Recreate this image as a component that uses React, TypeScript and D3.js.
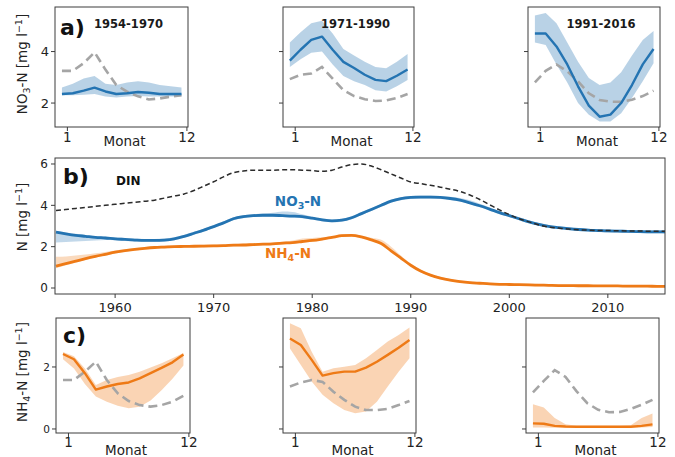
import React from "react";
import * as d3 from "d3";

// ---------- monthly panels (a: NO3-N, c: NH4-N) ----------
const months = [1, 2, 3, 4, 5, 6, 7, 8, 9, 10, 11, 12];
const monthTicks = [1, 12];
const periodLabels = ["1954-1970", "1971-1990", "1991-2016"];

const no3Mean1 = [2.35, 2.38, 2.48, 2.6, 2.45, 2.35, 2.38, 2.43, 2.4, 2.35, 2.35, 2.35];
const no3Lo1 = [2.3, 2.3, 2.32, 2.35, 2.25, 2.22, 2.25, 2.27, 2.25, 2.25, 2.25, 2.25];
const no3Hi1 = [2.6, 2.75, 2.95, 3.05, 2.75, 2.7, 2.8, 2.85, 2.8, 2.7, 2.65, 2.6];
const no3Ref1 = [3.25, 3.25, 3.55, 3.97, 3.3, 2.7, 2.44, 2.26, 2.14, 2.18, 2.25, 2.3];

const no3Mean2 = [3.65, 4.07, 4.45, 4.58, 4.07, 3.6, 3.36, 3.1, 2.9, 2.85, 3.06, 3.3];
const no3Lo2 = [3.4, 3.7, 3.95, 4.0, 3.5, 3.05, 2.85, 2.7, 2.5, 2.45, 2.65, 2.9];
const no3Hi2 = [4.35, 4.75, 5.1, 5.2, 4.7, 4.1, 3.85, 3.6, 3.4, 3.35, 3.6, 3.9];
const no3Ref2 = [2.93, 3.1, 3.15, 3.4, 2.95, 2.5, 2.27, 2.15, 2.08, 2.1, 2.2, 2.35];

const no3Mean3 = [4.7, 4.7, 4.2, 3.5, 2.65, 1.9, 1.47, 1.55, 2.0, 2.7, 3.5, 4.1];
const no3Lo3 = [4.35, 4.25, 3.5, 2.8, 2.0, 1.55, 1.28, 1.28, 1.6, 2.2, 2.85, 3.55];
const no3Hi3 = [5.4, 5.5, 5.1, 4.35, 3.6, 2.97, 2.7, 2.8, 3.2, 3.85, 4.45, 4.8];
const no3Ref3 = [2.8, 3.25, 3.5, 3.23, 2.84, 2.38, 2.12, 2.05, 2.05, 2.13, 2.27, 2.48];

const nh4Mean1 = [2.42, 2.25, 1.8, 1.27, 1.37, 1.45, 1.5, 1.63, 1.8, 1.97, 2.15, 2.4];
const nh4Lo1 = [2.25, 1.95, 1.45, 1.05, 0.88, 0.75, 0.67, 0.72, 0.92, 1.25, 1.62, 2.05];
const nh4Hi1 = [2.48, 2.35, 1.95, 1.42, 1.58, 1.68, 1.74, 1.85, 1.98, 2.12, 2.28, 2.45];
const nh4Ref1 = [1.58, 1.58, 1.85, 2.17, 1.58, 1.15, 0.9, 0.77, 0.72, 0.77, 0.88, 1.07];

const nh4Mean2 = [2.92, 2.71, 2.23, 1.72, 1.8, 1.85, 1.85, 1.98, 2.17, 2.39, 2.62, 2.87];
const nh4Lo2 = [2.6, 2.06, 1.53, 1.1, 0.83, 0.61, 0.51, 0.56, 0.88, 1.37, 1.85, 2.28];
const nh4Hi2 = [3.41, 3.25, 2.49, 1.85, 1.96, 2.01, 2.06, 2.28, 2.55, 2.82, 3.03, 3.27];
const nh4Ref2 = [1.37, 1.5, 1.58, 1.52, 1.2, 0.94, 0.72, 0.61, 0.61, 0.65, 0.77, 0.9];

const nh4Mean3 = [0.18, 0.17, 0.1, 0.08, 0.07, 0.07, 0.07, 0.07, 0.07, 0.07, 0.1, 0.15];
const nh4Lo3 = [0.05, 0.05, 0.04, 0.04, 0.04, 0.04, 0.04, 0.04, 0.04, 0.04, 0.05, 0.06];
const nh4Hi3 = [0.8, 0.69, 0.35, 0.15, 0.1, 0.1, 0.1, 0.1, 0.1, 0.12, 0.35, 0.5];
const nh4Ref3 = [1.18, 1.55, 1.9, 1.68, 1.22, 0.83, 0.62, 0.54, 0.55, 0.65, 0.78, 0.94];

const no3Ticks = [2, 4];
const nh4Ticks = [0, 2];

// ---------- b) annual series ----------
const years = d3.range(1954, 2017);
const yearTicks = [1960, 1970, 1980, 1990, 2000, 2010];
const nTicks = [0, 2, 4, 6];

const dinAnnual = [
  3.75, 3.8, 3.85, 3.9, 3.95, 4.0,
  4.05, 4.1, 4.15, 4.2, 4.25, 4.35, 4.45, 4.55, 4.72, 4.93,
  5.14, 5.38, 5.58, 5.66, 5.7, 5.7, 5.7, 5.72, 5.72, 5.7,
  5.68, 5.65, 5.7, 5.85, 5.97, 6.0, 5.9, 5.72, 5.52, 5.32,
  5.13, 5.05, 4.97, 4.88, 4.78, 4.67, 4.5, 4.28, 4.03, 3.78,
  3.55, 3.35, 3.2, 3.05, 2.95, 2.9, 2.85, 2.82, 2.8, 2.78,
  2.78, 2.77, 2.76, 2.76, 2.75, 2.75, 2.74,
];
const no3Annual = [
  2.7, 2.62, 2.55, 2.5, 2.45, 2.42,
  2.38, 2.35, 2.32, 2.3, 2.3, 2.32, 2.38, 2.5, 2.65, 2.8,
  2.97, 3.15, 3.35, 3.45, 3.5, 3.52, 3.52, 3.5, 3.48, 3.45,
  3.38, 3.3, 3.25, 3.28, 3.4, 3.6, 3.8, 4.0, 4.2, 4.32,
  4.38, 4.4, 4.4, 4.38, 4.33, 4.25, 4.12, 3.98, 3.82, 3.65,
  3.5, 3.35, 3.2, 3.08, 2.98, 2.92, 2.87, 2.83, 2.8, 2.78,
  2.76, 2.75, 2.74, 2.73, 2.72, 2.72, 2.71,
];
const no3ErrLo = [
  0.5, 0.4, 0.3, 0.22, 0.15, 0.1,
  0.07, 0.07, 0.07, 0.07, 0.07, 0.07, 0.07, 0.07, 0.07, 0.07,
  0.07, 0.07, 0.07, 0.07, 0.07, 0.07, 0.07, 0.07, 0.07, 0.07,
  0.07, 0.07, 0.07, 0.07, 0.07, 0.07, 0.07, 0.07, 0.07, 0.07,
  0.07, 0.07, 0.07, 0.07, 0.07, 0.07, 0.07, 0.07, 0.07, 0.07,
  0.07, 0.07, 0.07, 0.07, 0.07, 0.07, 0.07, 0.07, 0.07, 0.07,
  0.07, 0.07, 0.07, 0.07, 0.07, 0.07, 0.07,
];
const no3ErrHi = [
  0.07, 0.07, 0.07, 0.07, 0.07, 0.07,
  0.07, 0.07, 0.07, 0.07, 0.07, 0.07, 0.07, 0.07, 0.07, 0.07,
  0.07, 0.07, 0.07, 0.07, 0.07, 0.08, 0.12, 0.2, 0.2, 0.12,
  0.07, 0.07, 0.07, 0.07, 0.07, 0.07, 0.07, 0.07, 0.07, 0.07,
  0.07, 0.07, 0.07, 0.07, 0.08, 0.1, 0.12, 0.1, 0.08, 0.07,
  0.07, 0.07, 0.07, 0.07, 0.07, 0.07, 0.07, 0.07, 0.07, 0.07,
  0.07, 0.07, 0.07, 0.07, 0.07, 0.07, 0.07,
];
const nh4Annual = [
  1.06, 1.18, 1.3, 1.42, 1.53, 1.63,
  1.73, 1.81, 1.87, 1.92, 1.96, 1.98, 2.0, 2.01, 2.02, 2.03,
  2.04, 2.05, 2.07, 2.08, 2.1, 2.12, 2.14, 2.17, 2.2, 2.25,
  2.3, 2.37, 2.45, 2.53, 2.55, 2.47, 2.33, 2.15, 1.8, 1.45,
  1.1, 0.82, 0.62, 0.48, 0.38, 0.31, 0.26, 0.23, 0.2, 0.18,
  0.17, 0.16, 0.15, 0.14, 0.13, 0.12, 0.12, 0.11, 0.11, 0.1,
  0.1, 0.1, 0.09, 0.09, 0.09, 0.08, 0.08,
];
const nh4ErrLo = [
  0.1, 0.08, 0.06, 0.06, 0.06, 0.06,
  0.06, 0.06, 0.06, 0.06, 0.06, 0.06, 0.06, 0.06, 0.06, 0.06,
  0.06, 0.06, 0.06, 0.06, 0.06, 0.06, 0.06, 0.06, 0.06, 0.06,
  0.06, 0.06, 0.06, 0.06, 0.06, 0.06, 0.06, 0.06, 0.06, 0.06,
  0.06, 0.06, 0.05, 0.05, 0.05, 0.05, 0.05, 0.05, 0.05, 0.05,
  0.05, 0.05, 0.05, 0.05, 0.05, 0.05, 0.05, 0.05, 0.05, 0.05,
  0.05, 0.05, 0.05, 0.05, 0.05, 0.05, 0.05,
];
const nh4ErrHi = [
  0.45, 0.35, 0.27, 0.2, 0.15, 0.11,
  0.09, 0.07, 0.06, 0.06, 0.06, 0.06, 0.06, 0.06, 0.06, 0.06,
  0.06, 0.06, 0.06, 0.06, 0.06, 0.06, 0.06, 0.07, 0.1, 0.14,
  0.12, 0.08, 0.06, 0.06, 0.06, 0.06, 0.1, 0.18, 0.2, 0.12,
  0.07, 0.06, 0.06, 0.06, 0.05, 0.05, 0.05, 0.05, 0.05, 0.05,
  0.05, 0.05, 0.05, 0.05, 0.05, 0.05, 0.05, 0.05, 0.05, 0.05,
  0.05, 0.05, 0.05, 0.05, 0.05, 0.05, 0.05,
];

// ---------- styling ----------
const FONT = "DejaVu Sans";
const BLUE = "#2474b2";
const ORANGE = "#ee7a16";
const GRAY = "#a5a5a5";
const SPINE = "#3c3c3c";

type Box = { x0: number; x1: number; y0: number; y1: number };

type MonthPanelProps = {
  id: string;
  box: Box;
  yDomain: [number, number];
  yTicks: number[];
  yTickFont: number;
  showYLabels: boolean;
  mean: number[];
  lo: number[];
  hi: number[];
  ref: number[];
  color: string;
  title?: string;
  tickBaseline: number;
  monatBaseline: number;
};

function MonthPanel(p: MonthPanelProps) {
  const { box } = p;
  const x = d3.scaleLinear().domain([-0.14, 12.1]).range([box.x0, box.x1]);
  const y = d3.scaleLinear().domain(p.yDomain).range([box.y1, box.y0]);
  const mx = (i: number) => x(months[i] - 0.5);
  const line = d3.line<number>().x((_, i) => mx(i)).y((d) => y(d));
  const area = d3
    .area<number>()
    .x((_, i) => mx(i))
    .y0((_, i) => y(p.lo[i]))
    .y1((_, i) => y(p.hi[i]));
  const clip = `clip-${p.id}`;
  return (
    <g>
      <defs>
        <clipPath id={clip}>
          <rect x={box.x0} y={box.y0} width={box.x1 - box.x0} height={box.y1 - box.y0} />
        </clipPath>
      </defs>
      <g clipPath={`url(#${clip})`}>
        <path d={area(p.mean) || ""} fill={p.color} fillOpacity={0.32} stroke="none" />
        <path
          d={line(p.ref) || ""}
          fill="none"
          stroke={GRAY}
          strokeWidth={2.6}
          strokeDasharray="9,5"
        />
        <path d={line(p.mean) || ""} fill="none" stroke={p.color} strokeWidth={2.4} strokeLinejoin="round" />
      </g>
      <rect
        x={box.x0}
        y={box.y0}
        width={box.x1 - box.x0}
        height={box.y1 - box.y0}
        fill="none"
        stroke={SPINE}
        strokeWidth={1}
      />
      {p.yTicks.map((t) => (
        <g key={t}>
          <line x1={box.x0 - 4} x2={box.x0} y1={y(t)} y2={y(t)} stroke={SPINE} strokeWidth={1} />
          {p.showYLabels && (
            <text
              x={box.x0 - 6}
              y={y(t)}
              dy="0.36em"
              textAnchor="end"
              fontSize={p.yTickFont}
              fontFamily={FONT}
              fill="#222"
            >
              {t}
            </text>
          )}
        </g>
      ))}
      {monthTicks.map((t) => (
        <g key={t}>
          <line x1={x(t)} x2={x(t)} y1={box.y1} y2={box.y1 + 4} stroke={SPINE} strokeWidth={1} />
          <text
            x={x(t)}
            y={p.tickBaseline}
            textAnchor="middle"
            fontSize={13.5}
            fontFamily={FONT}
            fill="#222"
          >
            {t}
          </text>
        </g>
      ))}
      <text
        x={(box.x0 + box.x1) / 2 + 3}
        y={p.monatBaseline}
        textAnchor="middle"
        fontSize={13.5}
        fontFamily={FONT}
        fill="#222"
      >
        Monat
      </text>
      {p.title && (
        <text
          x={(box.x0 + box.x1) / 2 + 7}
          y={box.y0 + 21}
          textAnchor="middle"
          fontSize={11.5}
          fontWeight="bold"
          fontFamily={FONT}
          fill="#1a1a1a"
        >
          {p.title}
        </text>
      )}
    </g>
  );
}

function AnnualPanel() {
  const box: Box = { x0: 55, x1: 665, y0: 158, y1: 294 };
  const x = d3.scaleLinear().domain([1953.9, 2015.8]).range([box.x0, box.x1]);
  const y = d3.scaleLinear().domain([-0.29, 6.29]).range([box.y1, box.y0]);
  const line = d3
    .line<number>()
    .x((_, i) => x(years[i]))
    .y((d) => y(d))
    .curve(d3.curveMonotoneX);
  const band = (lo: number[], hi: number[]) =>
    d3
      .area<number>()
      .x((_, i) => x(years[i]))
      .y0((d, i) => y(d - lo[i]))
      .y1((d, i) => y(d + hi[i]))
      .curve(d3.curveMonotoneX);
  return (
    <g>
      <defs>
        <clipPath id="clip-b">
          <rect x={box.x0} y={box.y0} width={box.x1 - box.x0} height={box.y1 - box.y0} />
        </clipPath>
      </defs>
      <g clipPath="url(#clip-b)">
        <path d={band(no3ErrLo, no3ErrHi)(no3Annual) || ""} fill={BLUE} fillOpacity={0.28} />
        <path d={band(nh4ErrLo, nh4ErrHi)(nh4Annual) || ""} fill={ORANGE} fillOpacity={0.28} />
        <path d={line(no3Annual) || ""} fill="none" stroke={BLUE} strokeWidth={2.8} />
        <path d={line(nh4Annual) || ""} fill="none" stroke={ORANGE} strokeWidth={2.8} />
        <path
          d={line(dinAnnual) || ""}
          fill="none"
          stroke="#2b2b2b"
          strokeWidth={1.5}
          strokeDasharray="5,3"
        />
      </g>
      <rect
        x={box.x0}
        y={box.y0}
        width={box.x1 - box.x0}
        height={box.y1 - box.y0}
        fill="none"
        stroke={SPINE}
        strokeWidth={1}
      />
      {nTicks.map((t) => (
        <g key={t}>
          <line x1={box.x0 - 4} x2={box.x0} y1={y(t)} y2={y(t)} stroke={SPINE} />
          <text
            x={box.x0 - 7}
            y={y(t)}
            dy="0.36em"
            textAnchor="end"
            fontSize={12}
            fontFamily={FONT}
            fill="#222"
          >
            {t}
          </text>
        </g>
      ))}
      {yearTicks.map((t) => (
        <g key={t}>
          <line x1={x(t)} x2={x(t)} y1={box.y1} y2={box.y1 + 4} stroke={SPINE} />
          <text
            x={x(t)}
            y={312}
            textAnchor="middle"
            fontSize={13}
            fontFamily={FONT}
            fill="#222"
          >
            {t}
          </text>
        </g>
      ))}
      <text x={63} y={184} fontSize={22} fontWeight="bold" fontFamily={FONT} fill="#111">
        b)
      </text>
      <text x={116} y={185} fontSize={12} fontWeight="bold" fontFamily={FONT} fill="#111">
        DIN
      </text>
      <text x={298} y={206} textAnchor="middle" fontSize={13.5} fontWeight="bold" fontFamily={FONT} fill={BLUE}>
        NO<tspan fontSize={9.5} dy={3}>3</tspan>
        <tspan dy={-3}>-N</tspan>
      </text>
      <text x={288} y={258} textAnchor="middle" fontSize={13.5} fontWeight="bold" fontFamily={FONT} fill={ORANGE}>
        NH<tspan fontSize={9.5} dy={3}>4</tspan>
        <tspan dy={-3}>-N</tspan>
      </text>
    </g>
  );
}

function YLabel({ x, y, children }: { x: number; y: number; children: React.ReactNode }) {
  return (
    <text
      transform={`translate(${x},${y}) rotate(-90)`}
      textAnchor="middle"
      fontSize={13.5}
      fontFamily={FONT}
      fill="#222"
    >
      {children}
    </text>
  );
}

export default function App() {
  const aBoxes: Box[] = [
    { x0: 55, x1: 188, y0: 7, y1: 127 },
    { x0: 283, x1: 414, y0: 7, y1: 127 },
    { x0: 528, x1: 660, y0: 7, y1: 127 },
  ];
  const cBoxes: Box[] = [
    { x0: 56, x1: 190, y0: 318, y1: 433 },
    { x0: 283, x1: 416, y0: 318, y1: 433 },
    { x0: 526, x1: 659, y0: 318, y1: 433 },
  ];
  const aMeans = [no3Mean1, no3Mean2, no3Mean3];
  const aLos = [no3Lo1, no3Lo2, no3Lo3];
  const aHis = [no3Hi1, no3Hi2, no3Hi3];
  const aRefs = [no3Ref1, no3Ref2, no3Ref3];
  const cMeans = [nh4Mean1, nh4Mean2, nh4Mean3];
  const cLos = [nh4Lo1, nh4Lo2, nh4Lo3];
  const cHis = [nh4Hi1, nh4Hi2, nh4Hi3];
  const cRefs = [nh4Ref1, nh4Ref2, nh4Ref3];

  return (
    <svg
      width={675}
      height={457}
      style={{ position: "absolute", left: 0, top: 0, background: "#fff" }}
    >
      <rect x={0} y={0} width={675} height={457} fill="#fff" />
      {aBoxes.map((b, i) => (
        <MonthPanel
          key={`a${i}`}
          id={`a${i}`}
          box={b}
          yDomain={[1.07, 5.73]}
          yTicks={no3Ticks}
          yTickFont={13}
          showYLabels={i === 0}
          mean={aMeans[i]}
          lo={aLos[i]}
          hi={aHis[i]}
          ref={aRefs[i]}
          color={BLUE}
          title={periodLabels[i]}
          tickBaseline={142}
          monatBaseline={146}
        />
      ))}
      {cBoxes.map((b, i) => (
        <MonthPanel
          key={`c${i}`}
          id={`c${i}`}
          box={b}
          yDomain={[-0.13, 3.58]}
          yTicks={nh4Ticks}
          yTickFont={10.5}
          showYLabels={i === 0}
          mean={cMeans[i]}
          lo={cLos[i]}
          hi={cHis[i]}
          ref={cRefs[i]}
          color={ORANGE}
          tickBaseline={447}
          monatBaseline={455}
        />
      ))}
      <AnnualPanel />
      <text x={60} y={35} fontSize={22} fontWeight="bold" fontFamily={FONT} fill="#111">
        a)
      </text>
      <text x={63} y={343} fontSize={22} fontWeight="bold" fontFamily={FONT} fill="#111">
        c)
      </text>
      <YLabel x={27} y={64}>
        NO<tspan fontSize={9.5} dx={0} dy={3}>3</tspan>
        <tspan dy={-3}>-N [mg l</tspan>
        <tspan fontSize={9.5} dy={-5}>−1</tspan>
        <tspan dy={5}>]</tspan>
      </YLabel>
      <YLabel x={27} y={217}>
        N [mg l<tspan fontSize={9.5} dy={-5}>−1</tspan>
        <tspan dy={5}>]</tspan>
      </YLabel>
      <YLabel x={27} y={372}>
        NH<tspan fontSize={9.5} dy={3}>4</tspan>
        <tspan dy={-3}>-N [mg l</tspan>
        <tspan fontSize={9.5} dy={-5}>−1</tspan>
        <tspan dy={5}>]</tspan>
      </YLabel>
    </svg>
  );
}
